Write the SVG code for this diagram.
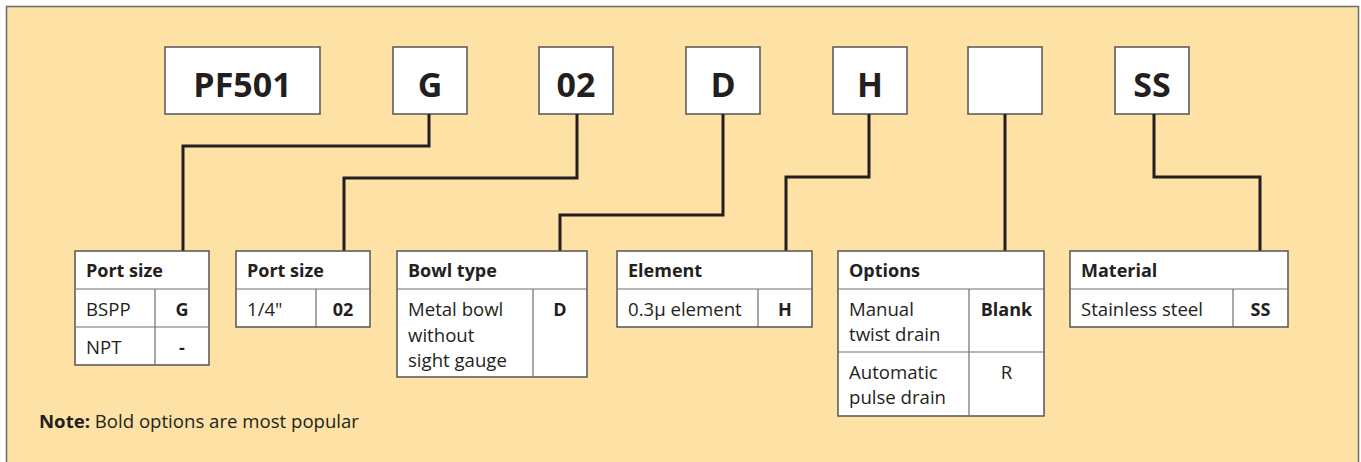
<svg xmlns="http://www.w3.org/2000/svg" width="1361" height="462" viewBox="0 0 1361 462">
  <style>
    .frame { fill: #FEE1A5; stroke: #6b6b6b; stroke-width: 1.5; }
    .code { fill: #ffffff; stroke: #555555; stroke-width: 1.5; }
    .code-t { font-family: "Open Sans", "Liberation Sans", sans-serif; font-weight: 700; font-size: 34px; fill: #231f20; text-anchor: middle; }
    .tbl { fill: #ffffff; stroke: #555555; stroke-width: 1.5; }
    .div { stroke: #6e6e6e; stroke-width: 1.2; fill: none; }
    .hd { font-family: "Open Sans", "Liberation Sans", sans-serif; font-weight: 700; font-size: 18px; fill: #231f20; }
    .tx { font-family: "Open Sans", "Liberation Sans", sans-serif; font-size: 18.6px; fill: #231f20; }
    .val { font-family: "Open Sans", "Liberation Sans", sans-serif; font-weight: 700; font-size: 18px; fill: #231f20; text-anchor: middle; }
    .valn { font-family: "Open Sans", "Liberation Sans", sans-serif; font-size: 18.6px; fill: #231f20; text-anchor: middle; }
    .wire { fill: none; stroke: #231f20; stroke-width: 3; stroke-linejoin: miter; }
  </style>

  <!-- panel background -->
  <rect class="frame" x="6.5" y="6.5" width="1352" height="470"/>

  <!-- part-number code boxes -->
  <g id="code-pf501"><rect class="code" x="165" y="47" width="155" height="67"/><text class="code-t" x="242.5" y="97">PF501</text></g>
  <g id="code-g"><rect class="code" x="393" y="47" width="74" height="67"/><text class="code-t" x="430" y="97">G</text></g>
  <g id="code-02"><rect class="code" x="539" y="47" width="74" height="67"/><text class="code-t" x="576" y="97">02</text></g>
  <g id="code-d"><rect class="code" x="686" y="47" width="74" height="67"/><text class="code-t" x="723" y="97">D</text></g>
  <g id="code-h"><rect class="code" x="833" y="47" width="74" height="67"/><text class="code-t" x="870" y="97">H</text></g>
  <g id="code-blank"><rect class="code" x="968" y="47" width="74" height="67"/></g>
  <g id="code-ss"><rect class="code" x="1115" y="47" width="74" height="67"/><text class="code-t" x="1152" y="97">SS</text></g>

  <!-- connectors from code boxes to option tables -->
  <g id="connectors">
    <polyline class="wire" points="429,114 429,146 183,146 183,251"/>
    <polyline class="wire" points="577,114 577,178 344,178 344,251"/>
    <polyline class="wire" points="723,114 723,215 560,215 560,251"/>
    <polyline class="wire" points="869,114 869,177 786,177 786,251"/>
    <polyline class="wire" points="1005,114 1005,251"/>
    <polyline class="wire" points="1154,114 1154,177 1260,177 1260,251"/>
  </g>

  <!-- port size (thread) table -->
  <g id="tbl-thread">
    <rect class="tbl" x="75" y="251" width="134" height="114"/>
    <path class="div" d="M75 289H209M75 327H209M155 289V365"/>
    <text class="hd" x="86" y="277">Port size</text>
    <text class="tx" x="86" y="316">BSPP</text>
    <text class="val" x="182" y="316">G</text>
    <text class="tx" x="86" y="354">NPT</text>
    <text class="val" x="182" y="354">-</text>
  </g>

  <!-- port size (diameter) table -->
  <g id="tbl-size">
    <rect class="tbl" x="236" y="251" width="134" height="76"/>
    <path class="div" d="M236 289H370M316 289V327"/>
    <text class="hd" x="247" y="277">Port size</text>
    <text class="tx" x="247" y="316">1/4"</text>
    <text class="val" x="343" y="316">02</text>
  </g>

  <!-- bowl type table -->
  <g id="tbl-bowl">
    <rect class="tbl" x="397" y="251" width="190" height="126"/>
    <path class="div" d="M397 289H587M533 289V377"/>
    <text class="hd" x="408" y="277">Bowl type</text>
    <text class="tx" x="408" y="316">Metal bowl</text>
    <text class="tx" x="408" y="341.5">without</text>
    <text class="tx" x="408" y="367">sight gauge</text>
    <text class="val" x="560" y="316">D</text>
  </g>

  <!-- element table -->
  <g id="tbl-element">
    <rect class="tbl" x="617" y="251" width="195" height="76"/>
    <path class="div" d="M617 289H812M758 289V327"/>
    <text class="hd" x="628" y="277">Element</text>
    <text class="tx" x="628" y="316">0.3μ element</text>
    <text class="val" x="785" y="316">H</text>
  </g>

  <!-- options table -->
  <g id="tbl-options">
    <rect class="tbl" x="838" y="251" width="206" height="165"/>
    <path class="div" d="M838 289H1044M838 352H1044M969 289V416"/>
    <text class="hd" x="849" y="277">Options</text>
    <text class="tx" x="849" y="316">Manual</text>
    <text class="tx" x="849" y="341">twist drain</text>
    <text class="val" x="1006.5" y="316">Blank</text>
    <text class="tx" x="849" y="379">Automatic</text>
    <text class="tx" x="849" y="404">pulse drain</text>
    <text class="valn" x="1006.5" y="379">R</text>
  </g>

  <!-- material table -->
  <g id="tbl-material">
    <rect class="tbl" x="1070" y="251" width="218" height="76"/>
    <path class="div" d="M1070 289H1288M1233 289V327"/>
    <text class="hd" x="1081" y="277">Material</text>
    <text class="tx" x="1081" y="316">Stainless steel</text>
    <text class="val" x="1260.5" y="316">SS</text>
  </g>

  <!-- footnote -->
  <g id="note">
    <text class="tx" x="39" y="428"><tspan font-weight="700">Note:</tspan> Bold options are most popular</text>
  </g>
</svg>
